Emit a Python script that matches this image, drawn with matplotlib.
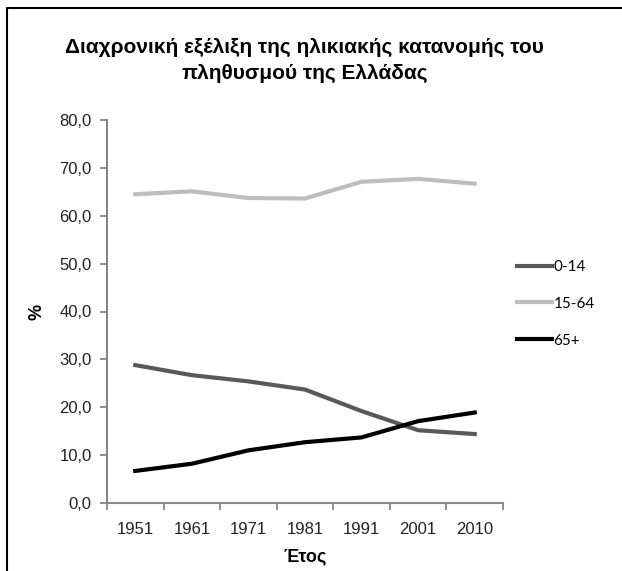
import matplotlib.pyplot as plt
from matplotlib.patches import Rectangle
from matplotlib.ticker import FuncFormatter

# Données (en %)
years = ['1951', '1961', '1971', '1981', '1991', '2001', '2010']
age_0_14 = [28.8, 26.7, 25.4, 23.7, 19.2, 15.2, 14.4]
age_15_64 = [64.5, 65.1, 63.7, 63.6, 67.1, 67.7, 66.7]
age_65 = [6.7, 8.2, 11.0, 12.7, 13.7, 17.1, 18.9]
series_names = ['0-14', '15-64', '65+']

plt.rcParams['font.family'] = 'sans-serif'
plt.rcParams['font.sans-serif'] = ['Liberation Sans']

fig = plt.figure(figsize=(6.22, 5.71), dpi=100)
ax = fig.add_axes([107 / 622, 1 - 503 / 571, 396 / 622, 383 / 571])

# Cadre du graphique (coupé à droite et en bas)
fig.patches.append(Rectangle((7 / 622, -0.1), 1.2, 1 - 8 / 571 + 0.1,
                             transform=fig.transFigure, fill=False,
                             edgecolor='black', linewidth=1.5))

x = range(len(years))
ax.plot(x, age_0_14, color='#595959', linewidth=3, label=series_names[0])
ax.plot(x, age_15_64, color='#BDBDBD', linewidth=3, label=series_names[1])
ax.plot(x, age_65, color='black', linewidth=3, label=series_names[2])

ax.set_xlim(-0.5, len(years) - 0.5)
ax.set_ylim(0, 80)
ax.set_yticks(range(0, 81, 10))
ax.yaxis.set_major_formatter(FuncFormatter(lambda v, p: f'{v:.1f}'.replace('.', ',')))
ax.set_xticks([i - 0.5 for i in range(len(years) + 1)])
ax.set_xticklabels([])
ax.set_xticks(list(x), minor=True)
ax.set_xticklabels(years, minor=True)
ax.tick_params(axis='x', which='minor', length=0, pad=14, labelsize=12, labelcolor='#222222')
ax.tick_params(axis='x', which='major', length=5, width=1.3, color='#868686', direction='out')
ax.tick_params(axis='y', length=5, width=1.3, color='#868686', labelsize=12, labelcolor='#222222', pad=6)

for side in ['top', 'right']:
    ax.spines[side].set_visible(False)
for side in ['left', 'bottom']:
    ax.spines[side].set_color('#868686')
    ax.spines[side].set_linewidth(1.5)

ax.set_ylabel('%', fontsize=13, fontweight='bold', labelpad=10)
ax.set_xlabel('Έτος', fontsize=13, fontweight='bold', labelpad=8)

fig.text(0.49, 1 - 60.5 / 571, 'Διαχρονική εξέλιξη της ηλικιακής κατανομής του\nπληθυσμού της Ελλάδας',
         ha='center', va='center', fontsize=15, fontweight='bold', linespacing=1.45)

leg = ax.legend(loc='center left', bbox_to_anchor=(1.0, 0.52), frameon=False,
                prop={'family': ['Lato', 'DejaVu Sans'], 'size': 11},
                handlelength=2.3, handletextpad=0.1, labelspacing=1.5)

plt.savefig('out.png', dpi=100)
